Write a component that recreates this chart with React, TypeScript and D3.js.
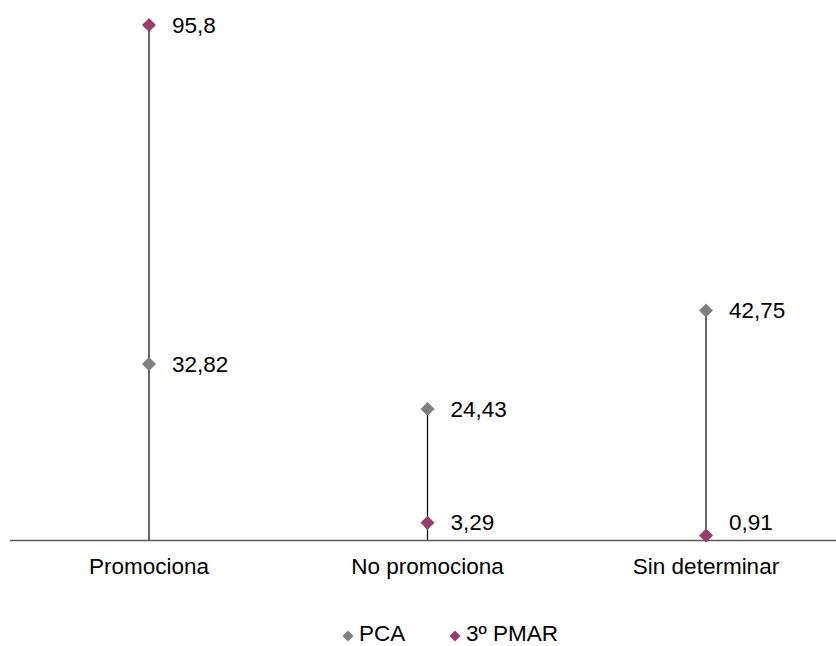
import React from "react";
import * as d3 from "d3";

const categories = ["Promociona", "No promociona", "Sin determinar"];
const pcaValues = [32.82, 24.43, 42.75];
const pmarValues = [95.8, 3.29, 0.91];
const seriesNames = ["PCA", "3º PMAR"];
const seriesColors = ["#808080", "#9B3B6E"];

const W = 836;
const H = 646;

export default function App() {
  const x = d3.scalePoint<string>().domain(categories).range([149, 706]);
  const y = d3.scaleLinear().domain([0, 95.8]).range([540.5, 25]);
  const fmt = (v: number) => String(v).replace(".", ",");
  const diamond = (cx: number, cy: number, r: number) =>
    `M${cx},${cy - r}L${cx + r},${cy}L${cx},${cy + r}L${cx - r},${cy}Z`;
  const series = [pcaValues, pmarValues];
  const font = "Liberation Sans, Arial, sans-serif";
  const fs = 22.5;
  // keep labels clear of the axis line
  const labelY = (v: number) => Math.min(y(v), y(0) - 19);

  return (
    <svg width={W} height={H} style={{ position: "absolute", left: 0, top: 0, background: "#fff" }}>
      {categories.map((c, i) => {
        const mx = Math.max(pcaValues[i], pmarValues[i]);
        return (
          <line key={c} x1={x(c)} x2={x(c)} y1={y(mx)} y2={y(0)} stroke="#000" strokeWidth={1.2} />
        );
      })}
      <line x1={10} x2={836} y1={y(0)} y2={y(0)} stroke="#595959" strokeWidth={1.3} />
      {categories.map((c) => (
        <text key={c} x={x(c)} y={574} textAnchor="middle" fontFamily={font} fontSize={fs} fill="#000">
          {c}
        </text>
      ))}
      {series.map((vals, si) =>
        categories.map((c, i) => (
          <g key={`${si}-${c}`}>
            <path d={diamond(x(c)!, y(vals[i]), 7)} fill={seriesColors[si]} />
            <text x={x(c)! + 23} y={labelY(vals[i]) + 8} fontFamily={font} fontSize={fs} fill="#000">
              {fmt(vals[i])}
            </text>
          </g>
        ))
      )}
      {seriesNames.map((n, si) => {
        const lx = si === 0 ? 348 : 455;
        return (
          <g key={n}>
            <path d={diamond(lx, 636, 5.5)} fill={seriesColors[si]} />
            <text x={lx + 11} y={640.5} fontFamily={font} fontSize={fs} fill="#000">
              {n}
            </text>
          </g>
        );
      })}
    </svg>
  );
}
